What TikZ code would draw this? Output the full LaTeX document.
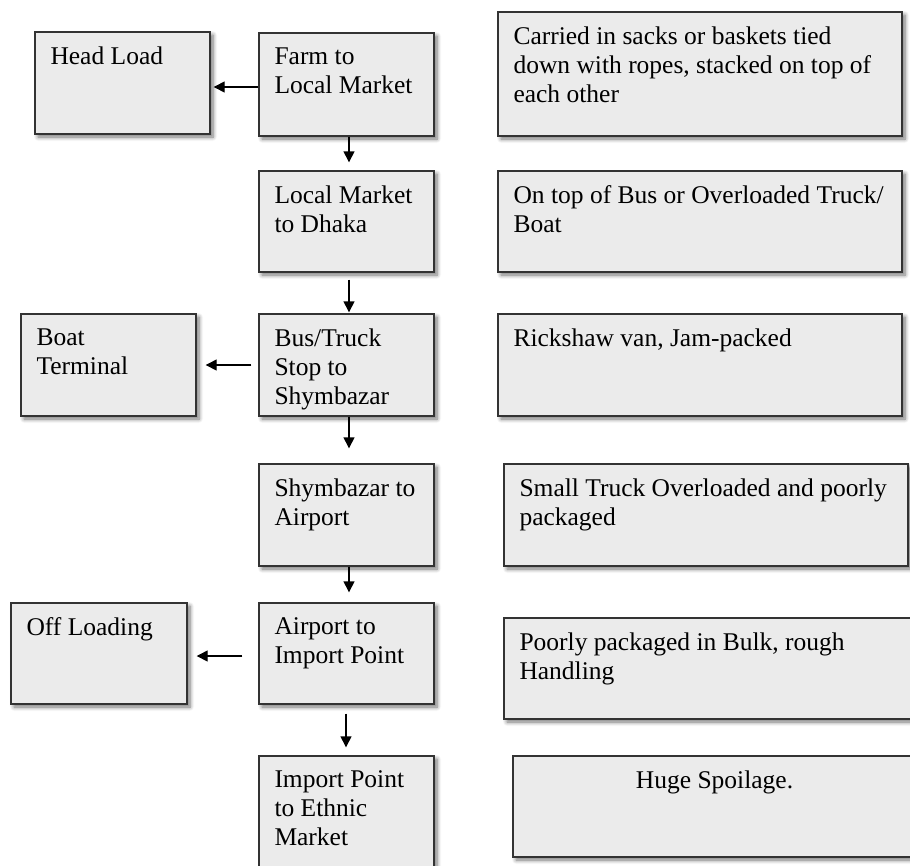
\documentclass[tikz,border=0pt]{standalone}
\usepackage{fontspec}
\setmainfont{Liberation Serif}
\usetikzlibrary{arrows.meta,shadows.blur}
\definecolor{boxfill}{HTML}{EBEBEB}
\definecolor{boxline}{HTML}{333333}
\tikzset{
  box/.style={draw=boxline, line width=1.4pt, fill=boxfill, inner sep=0pt,
    blur shadow={shadow xshift=3pt, shadow yshift=-3pt, shadow blur steps=6, shadow blur radius=4pt, shadow opacity=55}},
  txt/.style={inner sep=0pt, align=left, anchor=north west, font=\fontsize{25.5}{29}\selectfont},
  arr/.style={line width=1.4pt, -{Triangle[length=11pt,width=11pt]}}
}
\newcommand\mybox[6]{%
  \node[box, minimum width={#4-#2}, minimum height={#5-#3}] (#1) at ({(#2+#4)/2},{(#3+#5)/2}) {};
  \node[txt] (#1t) at ([xshift=16pt,yshift=-15pt]#1.north west) {#6};}
\begin{document}
\begin{tikzpicture}[x=1pt,y=-1pt]
\useasboundingbox (0,0) rectangle (910,865);
% left column
\mybox{head}{35}{32}{210}{134}{Head Load}
\mybox{boat}{21}{314}{196}{416}{Boat\\Terminal}
\mybox{offl}{11}{603}{187}{704}{Off Loading}
% middle column
\mybox{farm}{259}{33}{434}{136}{Farm to\\Local Market}
\mybox{dhaka}{259}{171}{434}{272}{Local Market\\to Dhaka}
\mybox{bus}{259}{314}{434}{416}{Bus/Truck\\Stop to\\Shymbazar}
\mybox{shym}{259}{464}{434}{566}{Shymbazar to\\Airport}
\mybox{air}{259}{603}{434}{704}{Airport to\\Import Point}
\mybox{imp}{259}{756}{434}{872}{Import Point\\to Ethnic\\Market}
% right column
\mybox{r1}{498}{12}{902}{136}{Carried in sacks or baskets tied\\down with ropes, stacked on top of\\each other}
\mybox{r2}{498}{171}{902}{272}{On top of Bus or Overloaded Truck/\\Boat}
\mybox{r3}{498}{314}{902}{416}{Rickshaw van, Jam-packed}
\mybox{r4}{504}{464}{908}{566}{Small Truck Overloaded and poorly\\packaged}
\mybox{r5}{504}{618}{916}{719}{Poorly packaged in Bulk, rough\\Handling}
\node[box, minimum width=403, minimum height=101] (r6) at (714.5,806.5) {};
\node[txt, anchor=north] (r6t) at ([yshift=-15pt]r6.north) {Huge Spoilage.};
% connectors
\draw[arr] ([yshift=-2.5pt]farm.west) -- ([yshift=-2.5pt,xshift=3pt]farm.west -| head.east);
\draw[arr, shorten >=8pt] ([xshift=2.5pt]farm.south) -- ([xshift=2.5pt]dhaka.north);
\draw[arr, shorten <=7pt, shorten >=1pt] ([xshift=2.5pt]dhaka.south) -- ([xshift=2.5pt]bus.north);
\draw[arr, shorten <=7pt, shorten >=9pt] (bus.west) -- (bus.west -| boat.east);
\draw[arr, shorten >=15pt] ([xshift=2.5pt]bus.south) -- ([xshift=2.5pt]shym.north);
\draw[arr, shorten >=10pt] ([xshift=2.5pt]shym.south) -- ([xshift=2.5pt]air.north);
\draw[arr, shorten <=16pt, shorten >=9pt] ([yshift=-2.5pt]air.west) -- ([yshift=-2.5pt]air.west -| offl.east);
\draw[arr, shorten <=9pt, shorten >=8pt] ([xshift=-0.5pt]air.south) -- ([xshift=-0.5pt]imp.north);
\end{tikzpicture}
\end{document}
